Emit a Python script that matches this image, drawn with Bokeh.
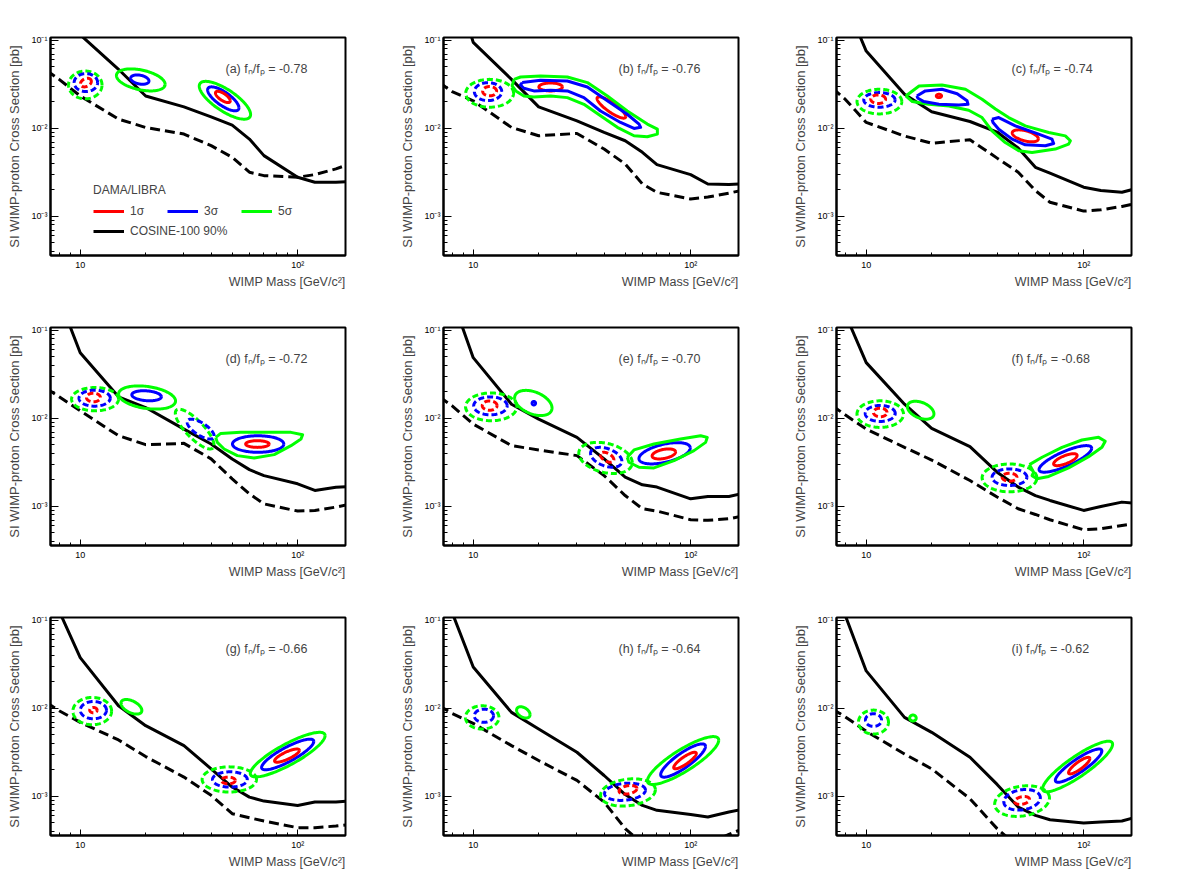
import numpy as np
from bokeh.plotting import figure
from bokeh.layouts import gridplot
from bokeh.models import Range1d, FixedTicker, Label, Title, Legend, LegendItem
from bokeh.embed import file_html
from bokeh.resources import INLINE

# ---------------- data ----------------
TAGS = ["a", "b", "c", "d", "e", "f", "g", "h", "i"]
FNFP = ["-0.78", "-0.76", "-0.74", "-0.72", "-0.70", "-0.68", "-0.66", "-0.64", "-0.62"]

X_TICKS = [10, 100]
X_TICK_LABELS = ["10", "10\u00b2"]
Y_TICKS = [0.001, 0.01, 0.1]
Y_TICK_LABELS = ["10\u207b\u00b3", "10\u207b\u00b2", "10\u207b\u00b9"]

# COSINE-100 90% limit (solid)
MASS_LIMIT = [8, 10, 15, 20, 30, 40, 50, 60, 70, 100, 120, 150, 170]
LIMIT_A = [0.30, 0.116, 0.0470, 0.0234, 0.0176, 0.01355, 0.0109, 0.00757, 0.00491, 0.00279, 0.00245, 0.00245, 0.00248]
LIMIT_B = [0.60, 0.095, 0.0361, 0.0176, 0.0122, 0.0090, 0.00725, 0.00535, 0.00388, 0.00299, 0.00234, 0.00231, 0.00234]
LIMIT_C = [0.28, 0.0757, 0.0245, 0.0155, 0.0120, 0.0091, 0.0060, 0.00362, 0.00310, 0.00215, 0.00197, 0.00188, 0.00204]
LIMIT_D = [0.232, 0.0558, 0.0176, 0.0133, 0.00757, 0.00512, 0.00347, 0.00262, 0.00224, 0.00181, 0.00152, 0.00165, 0.00168]
LIMIT_E = [0.232, 0.0491, 0.01452, 0.00982, 0.00610, 0.00347, 0.00215, 0.00176, 0.00166, 0.00122, 0.00130, 0.00130, 0.00139]
LIMIT_F = [0.155, 0.0431, 0.01452, 0.00771, 0.00478, 0.00245, 0.00166, 0.00133, 0.00117, 0.000901, 0.00100, 0.00112, 0.00109]
LIMIT_G = [0.128, 0.0378, 0.01072, 0.00637, 0.00378, 0.00206, 0.00128, 0.000983, 0.000886, 0.000791, 0.000863, 0.000863, 0.000886]
LIMIT_H = [0.123, 0.0296, 0.00902, 0.00583, 0.00318, 0.00173, 0.00105, 0.000791, 0.000695, 0.000625, 0.000583, 0.000665, 0.000706]
LIMIT_I = [0.115, 0.0267, 0.00791, 0.00535, 0.00279, 0.00137, 0.000757, 0.000609, 0.000544, 0.000499, 0.000512, 0.000526, 0.000573]

# second (dashed) black curve
MASS_DASH = [7, 8, 10, 15, 20, 30, 40, 50, 60, 70, 100, 120, 150, 170]
DASH_A = [0.0457, 0.0361, 0.0234, 0.01276, 0.01026, 0.00863, 0.00637, 0.00470, 0.00318, 0.00291, 0.00279, 0.00299, 0.00347, 0.00388]
DASH_B = [0.0332, 0.0262, 0.0206, 0.01026, 0.00826, 0.00877, 0.00583, 0.00395, 0.00234, 0.00188, 0.00158, 0.00166, 0.00184, 0.00197]
DASH_C = [0.0286, 0.0215, 0.0117, 0.0082, 0.0068, 0.00745, 0.00460, 0.00318, 0.00197, 0.00145, 0.00115, 0.00119, 0.00130, 0.00139]
DASH_D = [0.0219, 0.0176, 0.0122, 0.00637, 0.00504, 0.00521, 0.00347, 0.00206, 0.00139, 0.00107, 0.000886, 0.000901, 0.000983, 0.00105]
DASH_E = [0.0176, 0.0139, 0.00863, 0.00491, 0.00439, 0.00378, 0.00224, 0.00133, 0.000942, 0.000886, 0.000706, 0.000695, 0.000725, 0.00077]
DASH_F = [0.0139, 0.0110, 0.00757, 0.00470, 0.00337, 0.00197, 0.00128, 0.000942, 0.000811, 0.000706, 0.000544, 0.000558, 0.000609, 0.000637]
DASH_G = [0.0117, 0.00942, 0.00695, 0.00439, 0.00284, 0.00166, 0.00103, 0.000637, 0.000573, 0.000526, 0.000442, 0.000442, 0.000461, 0.000477]
DASH_H = [0.0107, 0.00877, 0.00676, 0.00378, 0.00256, 0.00152, 0.000863, 0.000431, 0.00029, 0.00027, 0.00026, 0.00029, 0.00037, 0.00042]
DASH_I = [0.00982, 0.00805, 0.00550, 0.00304, 0.00206, 0.000942, 0.000431, 0.000267, 0.00022, 0.0002, 0.00018, 0.00018, 0.00019, 0.0002]

# DAMA/LIBRA contours approximated as ellipses in log-log space:
# (sigma level, set, centre mass, centre xsec, half-width [decades mass], half-height [decades xsec], correlation)
ELL_A = [
    (5, "alt", 10.55, 0.0312, 0.077, 0.158, 0.0),
    (3, "alt", 10.62, 0.0332, 0.054, 0.102, 0.0),
    (1, "alt", 10.62, 0.0332, 0.025, 0.049, 0.3),
    (5, "main", 18.99, 0.0356, 0.112, 0.125, -0.4),
    (3, "main", 18.8, 0.0359, 0.042, 0.053, -0.3),
    (5, "main", 46.3, 0.0209, 0.118, 0.215, -0.75),
    (3, "main", 45.5, 0.0217, 0.072, 0.136, -0.75),
    (1, "main", 45.3, 0.0228, 0.034, 0.064, -0.7),
]
ELL_B = [
    (5, "alt", 11.9, 0.0251, 0.110, 0.158, 0.0),
    (3, "alt", 11.7, 0.0262, 0.063, 0.102, 0.0),
    (1, "alt", 11.9, 0.0265, 0.032, 0.053, 0.0),
    (1, "main", 22.7, 0.0296, 0.054, 0.045, 0.0),
    (1, "main", 43.2, 0.0173, 0.066, 0.121, -0.85),
]
ELL_C = [
    (5, "alt", 11.5, 0.0202, 0.103, 0.140, 0.0),
    (3, "alt", 11.5, 0.0211, 0.072, 0.083, 0.0),
    (1, "alt", 11.35, 0.0215, 0.034, 0.049, 0.0),
    (1, "main", 21.6, 0.0234, 0.012, 0.019, 0.0),
    (1, "main", 53.9, 0.00824, 0.060, 0.068, -0.5),
]
ELL_D = [
    (5, "alt", 11.7, 0.01656, 0.108, 0.132, 0.0),
    (3, "alt", 11.65, 0.0170, 0.072, 0.091, 0.0),
    (1, "alt", 11.5, 0.0173, 0.032, 0.049, 0.0),
    (5, "main", 20.3, 0.0173, 0.131, 0.132, -0.3),
    (3, "main", 20.2, 0.0181, 0.068, 0.057, -0.2),
    (5, "alt", 33.6, 0.00757, 0.089, 0.226, -0.8),
    (3, "alt", 35.8, 0.00757, 0.062, 0.113, -0.7),
    (3, "main", 65.8, 0.00512, 0.118, 0.094, 0.0),
    (1, "main", 65.3, 0.00512, 0.054, 0.038, 0.0),
]
ELL_E = [
    (5, "alt", 12.1, 0.01355, 0.118, 0.158, 0.0),
    (3, "alt", 12.0, 0.0139, 0.077, 0.102, 0.0),
    (1, "alt", 11.9, 0.0140, 0.034, 0.053, 0.0),
    (5, "main", 18.9, 0.0150, 0.086, 0.143, -0.4),
    (3, "main", 19.0, 0.0149, 0.008, 0.020, 0.0),
    (5, "alt", 40.6, 0.00356, 0.123, 0.177, -0.3),
    (3, "alt", 40.9, 0.00362, 0.072, 0.113, -0.4),
    (1, "alt", 41.3, 0.00362, 0.031, 0.057, -0.5),
    (3, "main", 75.9, 0.00402, 0.118, 0.121, 0.5),
    (1, "main", 75.3, 0.00395, 0.054, 0.057, 0.4),
]
ELL_F = [
    (5, "alt", 11.6, 0.0112, 0.107, 0.151, 0.0),
    (3, "alt", 11.6, 0.0114, 0.069, 0.091, 0.0),
    (1, "alt", 11.6, 0.0117, 0.031, 0.049, 0.0),
    (5, "main", 17.8, 0.0124, 0.061, 0.102, -0.4),
    (5, "alt", 45.6, 0.00211, 0.126, 0.158, 0.0),
    (3, "alt", 45.6, 0.00215, 0.080, 0.094, 0.0),
    (1, "alt", 45.6, 0.00215, 0.034, 0.045, 0.0),
    (3, "main", 82.4, 0.00347, 0.121, 0.151, 0.8),
    (1, "main", 82.4, 0.00340, 0.054, 0.068, 0.7),
]
ELL_G = [
    (5, "alt", 11.36, 0.00933, 0.089, 0.155, 0.0),
    (3, "alt", 11.5, 0.00957, 0.060, 0.098, 0.0),
    (1, "alt", 11.5, 0.00957, 0.017, 0.030, 0.0),
    (5, "main", 17.2, 0.01044, 0.048, 0.083, -0.5),
    (5, "alt", 48.5, 0.00156, 0.125, 0.143, 0.0),
    (3, "alt", 48.8, 0.00156, 0.080, 0.087, 0.0),
    (1, "alt", 48.0, 0.00152, 0.032, 0.038, 0.0),
    (5, "main", 90.0, 0.00299, 0.172, 0.253, 0.85),
    (3, "main", 90.0, 0.00300, 0.120, 0.174, 0.85),
    (1, "main", 89.3, 0.00291, 0.057, 0.075, 0.8),
]
ELL_H = [
    (5, "alt", 11.0, 0.00791, 0.077, 0.132, 0.0),
    (3, "alt", 11.2, 0.00826, 0.044, 0.075, 0.0),
    (5, "main", 17.0, 0.00902, 0.031, 0.064, -0.4),
    (5, "alt", 51.5, 0.00111, 0.126, 0.155, 0.2),
    (3, "alt", 49.9, 0.00113, 0.094, 0.098, 0.2),
    (1, "alt", 51.5, 0.00119, 0.041, 0.049, 0.3),
    (5, "main", 92.3, 0.00256, 0.164, 0.272, 0.85),
    (3, "main", 92.3, 0.00256, 0.103, 0.189, 0.85),
    (1, "main", 94.2, 0.00256, 0.052, 0.094, 0.85),
]
ELL_I = [
    (5, "alt", 10.8, 0.00700, 0.069, 0.136, 0.0),
    (3, "alt", 10.8, 0.00738, 0.037, 0.072, 0.0),
    (5, "main", 16.4, 0.00778, 0.015, 0.034, 0.0),
    (5, "alt", 52.1, 0.000886, 0.126, 0.174, 0.2),
    (3, "alt", 52.1, 0.000916, 0.084, 0.117, 0.2),
    (1, "alt", 52.1, 0.000900, 0.034, 0.045, 0.3),
    (5, "main", 93.8, 0.00219, 0.161, 0.287, 0.88),
    (3, "main", 94.8, 0.00224, 0.107, 0.189, 0.88),
    (1, "main", 95.4, 0.00224, 0.049, 0.094, 0.85),
]

# irregular contours traced as outlines (mass, xsec)
B_GREEN_MASS = [15.4, 16.5, 20.4, 27.1, 33.5, 41.4, 51.1, 63.2, 70.3, 70.3, 63.2, 54.9, 46.0, 38.5, 32.3, 27.1, 22.7, 19.0, 17.1, 15.7, 15.1]
B_GREEN_XSEC = [0.0361, 0.0384, 0.0394, 0.0384, 0.0332, 0.0234, 0.0158, 0.0112, 0.00982, 0.00863, 0.00805, 0.00826, 0.0103, 0.0139, 0.0188, 0.0224, 0.0234, 0.0228, 0.0234, 0.0267, 0.0304]
B_BLUE_MASS = [16.8, 20.4, 27.1, 33.5, 41.4, 51.1, 57.9, 58.9, 54.9, 47.6, 38.5, 32.3, 27.1, 22.7, 19.0, 17.1, 16.5]
B_BLUE_XSEC = [0.0332, 0.0352, 0.0346, 0.0296, 0.0206, 0.0145, 0.0112, 0.0103, 0.0100, 0.0117, 0.0158, 0.0224, 0.0267, 0.0272, 0.0267, 0.0286, 0.0312]
C_GREEN_MASS = [15.2, 17.5, 22.3, 28.6, 34.1, 39.3, 45.2, 53.9, 69.1, 82.4, 86.9, 85.3, 74.1, 57.9, 50.3, 43.6, 37.9, 34.1, 29.6, 24.0, 19.4, 16.3]
C_GREEN_XSEC = [0.0234, 0.0303, 0.0312, 0.0279, 0.0215, 0.0166, 0.0133, 0.0107, 0.0090, 0.00824, 0.00724, 0.00664, 0.00583, 0.00534, 0.00557, 0.00692, 0.0094, 0.0133, 0.0161, 0.0180, 0.0188, 0.0202]
C_BLUE_UP_MASS = [17.1, 18.7, 22.3, 26.2, 29.1, 29.4, 26.7, 21.6, 18.4, 17.3]
C_BLUE_UP_XSEC = [0.0234, 0.0267, 0.0279, 0.0248, 0.0206, 0.0188, 0.0185, 0.0188, 0.0202, 0.0220]
C_BLUE_LO_MASS = [37.9, 40.7, 48.5, 62.1, 71.5, 72.8, 66.7, 53.9, 46.9, 40.7, 38.3]
C_BLUE_LO_XSEC = [0.0127, 0.0133, 0.0107, 0.0086, 0.00757, 0.00675, 0.00635, 0.00652, 0.00757, 0.0098, 0.0117]
D_GREEN_MASS = [42.0, 44.3, 54.7, 72.7, 93.2, 105.4, 103.6, 93.2, 78.0, 63.1, 52.8, 45.9, 42.7]
D_GREEN_XSEC = [0.00610, 0.00676, 0.00695, 0.00695, 0.00695, 0.00653, 0.00583, 0.00491, 0.00388, 0.00356, 0.00378, 0.00450, 0.00535]
E_GREEN_MASS = [51.1, 54.9, 67.8, 89.9, 111.2, 119.3, 117.2, 103.6, 83.8, 67.8, 57.9, 52.0]
E_GREEN_XSEC = [0.00362, 0.00439, 0.00512, 0.00583, 0.00637, 0.00610, 0.00535, 0.00431, 0.00332, 0.00274, 0.00279, 0.00318]
F_GREEN_MASS = [56.3, 64.4, 79.5, 98.2, 117.2, 125.7, 121.4, 105.4, 85.3, 69.1, 61.0, 57.9, 58.9]
F_GREEN_XSEC = [0.00299, 0.00362, 0.00470, 0.00569, 0.00610, 0.00550, 0.00470, 0.00368, 0.00274, 0.00219, 0.00206, 0.00224, 0.00245]

POLY_A = []
POLY_B = [(5, B_GREEN_MASS, B_GREEN_XSEC), (3, B_BLUE_MASS, B_BLUE_XSEC)]
POLY_C = [(5, C_GREEN_MASS, C_GREEN_XSEC), (3, C_BLUE_UP_MASS, C_BLUE_UP_XSEC),
          (3, C_BLUE_LO_MASS, C_BLUE_LO_XSEC)]
POLY_D = [(5, D_GREEN_MASS, D_GREEN_XSEC)]
POLY_E = [(5, E_GREEN_MASS, E_GREEN_XSEC)]
POLY_F = [(5, F_GREEN_MASS, F_GREEN_XSEC)]
POLY_G = []
POLY_H = []
POLY_I = []

LIMITS = [LIMIT_A, LIMIT_B, LIMIT_C, LIMIT_D, LIMIT_E, LIMIT_F, LIMIT_G, LIMIT_H, LIMIT_I]
DASHES = [DASH_A, DASH_B, DASH_C, DASH_D, DASH_E, DASH_F, DASH_G, DASH_H, DASH_I]
ELLS = [ELL_A, ELL_B, ELL_C, ELL_D, ELL_E, ELL_F, ELL_G, ELL_H, ELL_I]
POLYS = [POLY_A, POLY_B, POLY_C, POLY_D, POLY_E, POLY_F, POLY_G, POLY_H, POLY_I]

# ---------------- style ----------------
LEVEL_COLOR = {1: "#ff0000", 3: "#0000ff", 5: "#00ff00"}
SET_DASH = {"main": "solid", "alt": "6 3"}
FONT = "Liberation Sans"

X_MINOR = [k * 10.0 ** e for e in (0, 1, 2) for k in range(2, 10)]
Y_MINOR = [k * 10.0 ** e for e in (-4, -3, -2, -1) for k in range(2, 10)]


def outline(m, s, du, dv, rho, n=140):
    t = np.linspace(0, 2 * np.pi, n)
    d = np.arccos(rho)
    u = np.log10(m) + du * np.cos(t)
    v = np.log10(s) + dv * np.cos(t - d)
    return 10 ** u, 10 ** v


def make_panel(idx):
    p = figure(width=393, height=290, x_axis_type="log", y_axis_type="log",
               x_range=Range1d(7.3, 166), y_range=Range1d(3.6e-4, 0.108),
               output_backend="svg", toolbar_location=None,
               min_border_left=50, min_border_right=48,
               min_border_top=37, min_border_bottom=35)
    p.grid.visible = False
    p.outline_line_color = "black"
    p.outline_line_width = 2
    p.background_fill_color = "white"

    p.xaxis.ticker = FixedTicker(ticks=X_TICKS, minor_ticks=X_MINOR)
    p.yaxis.ticker = FixedTicker(ticks=Y_TICKS, minor_ticks=Y_MINOR)
    p.xaxis.major_label_overrides = dict(zip(X_TICKS, X_TICK_LABELS))
    p.yaxis.major_label_overrides = dict(zip(Y_TICKS, Y_TICK_LABELS))
    for ax, mj, mn in ((p.xaxis, 6, 3), (p.yaxis, 8, 4)):
        ax.axis_line_width = 2
        ax.major_tick_in = mj
        ax.major_tick_out = 0
        ax.minor_tick_in = mn
        ax.minor_tick_out = 0
        ax.major_label_text_font = FONT
        ax.major_label_text_font_size = "9px"
        ax.major_label_text_color = "black"
    p.xaxis.major_label_standoff = 4
    p.yaxis.major_label_standoff = 3

    p.yaxis.axis_label = "SI WIMP-proton Cross Section [pb]"
    p.yaxis.axis_label_text_font = FONT
    p.yaxis.axis_label_text_font_size = "13px"
    p.yaxis.axis_label_text_font_style = "normal"
    p.yaxis.axis_label_standoff = 6

    p.add_layout(Title(text="WIMP Mass [GeV/c\u00b2]", align="right", text_font=FONT,
                       text_font_size="12.5px", text_font_style="normal", standoff=1), "below")

    lim = p.line(MASS_LIMIT, LIMITS[idx], line_color="black", line_width=3, line_join="round")
    p.line(MASS_DASH, DASHES[idx], line_color="black", line_width=3, line_dash="10 5")

    first = {}
    for (lev, kind, m, s, du, dv, rho) in ELLS[idx]:
        xs, ys = outline(m, s, du, dv, rho)
        r = p.line(xs, ys, line_color=LEVEL_COLOR[lev], line_width=3,
                   line_dash=SET_DASH[kind], line_join="round")
        if kind == "main" and lev not in first:
            first[lev] = r
    for (lev, ms, xs) in POLYS[idx]:
        r = p.line(list(ms) + [ms[0]], list(xs) + [xs[0]], line_color=LEVEL_COLOR[lev],
                   line_width=3, line_join="round")
        if lev not in first:
            first[lev] = r

    p.add_layout(Label(x=175, y=187, x_units="screen", y_units="screen",
                       text=f"({TAGS[idx]}) f\u2099/f\u209a = {FNFP[idx]}",
                       text_font=FONT, text_font_size="12.5px", text_baseline="alphabetic"))

    if idx == 0:
        common = dict(glyph_width=31, glyph_height=20, label_height=20, label_standoff=6,
                      label_text_font=FONT, label_text_font_size="12px", padding=2, margin=0,
                      border_line_alpha=0, background_fill_alpha=0)
        leg1 = Legend(items=[LegendItem(label="1\u03c3", renderers=[first[1]]),
                             LegendItem(label="3\u03c3", renderers=[first[3]]),
                             LegendItem(label="5\u03c3", renderers=[first[5]])],
                      orientation="horizontal", label_width=30, spacing=7,
                      title="DAMA/LIBRA", title_text_font=FONT, title_text_font_size="12px",
                      title_text_font_style="normal", title_standoff=4,
                      location=(41, 32), **common)
        leg2 = Legend(items=[LegendItem(label="COSINE-100 90%", renderers=[lim])],
                      location=(41, 12), **common)
        p.add_layout(leg1, "center")
        p.add_layout(leg2, "center")
    return p


panels = [make_panel(i) for i in range(9)]
grid = gridplot([panels[0:3], panels[3:6], panels[6:9]], toolbar_location=None)

open("out.html", "w").write(file_html(grid, INLINE))
